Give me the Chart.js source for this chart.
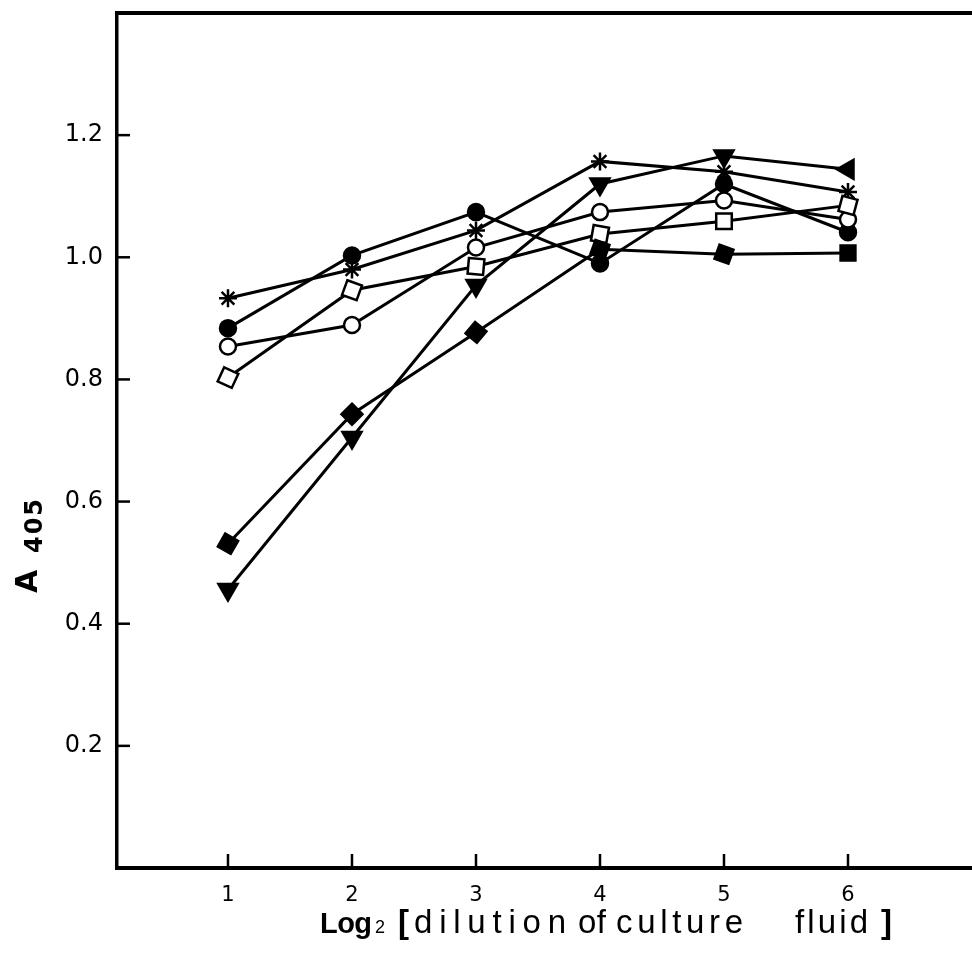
<!DOCTYPE html>
<html>
<head>
<meta charset="utf-8">
<title>A405 vs dilution of culture fluid</title>
<script src="https://cdn.jsdelivr.net/npm/chart.js@4.4.0/dist/chart.umd.min.js"></script>
<style>
  html, body { margin: 0; padding: 0; background: #fff; }
  #wrap { width: 972px; height: 960px; position: relative; }
</style>
</head>
<body>
<div id="wrap"><canvas id="dilutionChart"></canvas></div>
<script>
// Log2 dilution steps and axis ticks
const dilutions = [1, 2, 3, 4, 5, 6];
const xTicks = [1, 2, 3, 4, 5, 6];
const yTicks = [0.2, 0.4, 0.6, 0.8, 1.0, 1.2];

// A405 readings, one array per culture fluid (by marker)
const starValues = [0.933, 0.980, 1.044, 1.157, 1.140, 1.107];
const filledCircleValues = [0.884, 1.003, 1.074, 0.990, 1.120, 1.041];
const openCircleValues = [0.854, 0.889, 1.016, 1.074, 1.093, 1.062];
const openSquareValues = [0.803, 0.946, 0.985, 1.038, 1.059, 1.085];
const filledSquareValues = [0.531, 0.743, 0.877, 1.013, 1.005, 1.007];
const triangleValues = [0.456, 0.705, 0.954, 1.120, 1.166, 1.144];

const tickFont = 'DejaVu Sans';

function toPoints(values) {
    return dilutions.map((x, i) => ({ x: x, y: values[i] }));
}

function makeSeries(label, values, style) {
    return Object.assign({
        label: label,
        data: toPoints(values),
        borderColor: '#000',
        borderWidth: 3,
        pointBorderColor: '#000',
        pointBorderWidth: 2.5,
        tension: 0,
        fill: false,
        clip: false
    }, style);
}

// drop the label overhang padding so the plot box sits where the scan has it
function noScalePadding(scale) {
    scale.paddingLeft = 0;
    scale.paddingRight = 0;
    scale.paddingTop = 0;
    scale.paddingBottom = 0;
}

// draw a word stretched between two x positions (the scan uses loose letter spacing)
function fitText(ctx, text, x0, x1, y, font) {
    ctx.font = font;
    ctx.letterSpacing = '0px';
    const w = ctx.measureText(text).width;
    const spacing = text.length > 1 ? (x1 - x0 - w) / (text.length - 1) : 0;
    ctx.letterSpacing = spacing + 'px';
    ctx.fillText(text, x0, y);
    ctx.letterSpacing = '0px';
}

// frame top line, inward tick marks and the two axis titles
const framePlugin = {
    id: 'framePlugin',
    afterDraw(chart) {
        const ctx = chart.ctx;
        const area = chart.chartArea;
        const xs = chart.scales.x;
        const ys = chart.scales.y;
        ctx.save();
        ctx.strokeStyle = '#000';
        ctx.fillStyle = '#000';

        // top of frame
        ctx.lineWidth = 4;
        ctx.beginPath();
        ctx.moveTo(area.left - 1.5, area.top);
        ctx.lineTo(area.right, area.top);
        ctx.stroke();

        // inward ticks
        ctx.lineWidth = 2.5;
        yTicks.forEach(v => {
            const py = ys.getPixelForValue(v);
            ctx.beginPath();
            ctx.moveTo(area.left, py);
            ctx.lineTo(area.left + 13, py);
            ctx.stroke();
        });
        xTicks.forEach(v => {
            const px = xs.getPixelForValue(v);
            ctx.beginPath();
            ctx.moveTo(px, area.bottom);
            ctx.lineTo(px, area.bottom - 14);
            ctx.stroke();
        });

        // y title: A 405
        ctx.textAlign = 'left';
        ctx.textBaseline = 'alphabetic';
        ctx.save();
        ctx.translate(37, 593);
        ctx.rotate(-Math.PI / 2);
        ctx.font = 'bold 30px "DejaVu Sans"';
        ctx.fillText('A', 0, 0);
        ctx.restore();
        ctx.save();
        ctx.translate(42, 553);
        ctx.rotate(-Math.PI / 2);
        fitText(ctx, '405', 0, 54, 0, 'bold 24px "DejaVu Sans"');
        ctx.restore();

        // x title: Log2 [dilution of culture   fluid]
        const base = 933;
        const body = '33px "Liberation Sans"';
        fitText(ctx, 'Log', 320, 372, base, 'bold 29px "Liberation Sans"');
        ctx.font = '18px "Liberation Sans"';
        ctx.fillText('2', 375, base);
        fitText(ctx, '[', 398, 408, base, 'bold ' + body);
        fitText(ctx, 'dilution', 414, 566, base, body);
        fitText(ctx, 'of', 578, 606, base, body);
        fitText(ctx, 'culture', 616, 743, base, body);
        fitText(ctx, 'fluid', 795, 868, base, body);
        fitText(ctx, ']', 881, 893, base, 'bold ' + body);

        ctx.restore();
    }
};

document.addEventListener('DOMContentLoaded', function() {
    const ctx = document.getElementById('dilutionChart');

    new Chart(ctx, {
        type: 'line',
        data: {
            datasets: [
                makeSeries('filled square', filledSquareValues, {
                    pointStyle: 'rect', pointRadius: 10.5,
                    pointRotation: [30, 45, 40, 20, 20, 0],
                    pointBackgroundColor: '#000'
                }),
                makeSeries('triangle', triangleValues, {
                    pointStyle: 'triangle', pointRadius: 11,
                    pointRotation: [180, 180, 180, 180, 180, 270],
                    pointBackgroundColor: '#000'
                }),
                makeSeries('open square', openSquareValues, {
                    pointStyle: 'rect', pointRadius: 11,
                    pointRotation: [25, 20, 5, 10, 0, 15],
                    pointBackgroundColor: '#fff'
                }),
                makeSeries('open circle', openCircleValues, {
                    pointStyle: 'circle', pointRadius: 8,
                    pointBackgroundColor: '#fff'
                }),
                makeSeries('filled circle', filledCircleValues, {
                    pointStyle: 'circle', pointRadius: 8,
                    pointBackgroundColor: '#000'
                }),
                makeSeries('star', starValues, {
                    pointStyle: 'star', pointRadius: 9,
                    pointBackgroundColor: '#000'
                })
            ]
        },
        options: {
            responsive: true,
            maintainAspectRatio: false,
            animation: false,
            layout: { autoPadding: false, padding: { top: 13, right: 0, bottom: 0, left: 0 } },
            plugins: {
                legend: { display: false },
                tooltip: { enabled: false }
            },
            scales: {
                x: {
                    type: 'linear',
                    min: 0.105,
                    max: 7.0,
                    afterBuildTicks: scale => { scale.ticks = xTicks.map(v => ({ value: v })); },
                    afterFit: scale => { scale.height = 92; noScalePadding(scale); },
                    grid: { display: false, drawTicks: false },
                    border: { display: true, color: '#000', width: 4 },
                    ticks: {
                        color: '#000',
                        padding: 15,
                        maxRotation: 0,
                        autoSkip: false,
                        font: { family: tickFont, size: 21 },
                        callback: v => String(v)
                    }
                },
                y: {
                    type: 'linear',
                    min: 0,
                    max: 1.4,
                    afterBuildTicks: scale => { scale.ticks = yTicks.map(v => ({ value: v })); },
                    afterFit: scale => { scale.width = 117; noScalePadding(scale); },
                    grid: { display: false, drawTicks: false },
                    border: { display: true, color: '#000', width: 3.5 },
                    ticks: {
                        color: '#000',
                        padding: 14,
                        autoSkip: false,
                        font: { family: tickFont, size: 24 },
                        callback: v => v.toFixed(1)
                    }
                }
            }
        },
        plugins: [framePlugin]
    });
});
</script>
</body>
</html>
